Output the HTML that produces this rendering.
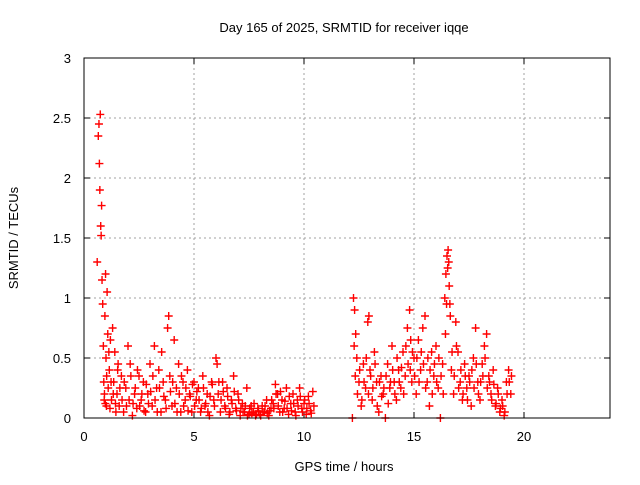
<!DOCTYPE html>
<html><head><meta charset="utf-8"><style>
body{margin:0;background:#fff}
svg text{font-family:"Liberation Sans",sans-serif;font-size:13px;fill:#000}
</style></head><body>
<svg id="c" width="640" height="480">
<text x="344" y="32" text-anchor="middle">Day 165 of 2025, SRMTID for receiver iqqe</text>
<text x="344" y="471" text-anchor="middle">GPS time / hours</text>
<text transform="translate(18,238) rotate(-90)" text-anchor="middle">SRMTID / TECUs</text>
<g id="grid"></g><g id="ticks"></g><g id="pts"></g>
<rect x="84" y="58" width="526" height="360" fill="none" stroke="#000" stroke-width="1"/>
</svg>
<script>
const xTicks=[0,5,10,15,20];
const yTicks=[0,0.5,1,1.5,2,2.5,3];
const yTickLabels=["0","0.5","1","1.5","2","2.5","3"];
const times=[0.60,0.65,0.68,0.70,0.72,0.74,0.76,0.78,0.80,0.82,0.85,0.88,0.90,0.92,0.95,0.98,1.00,1.02,1.05,1.08,1.10,1.15,1.20,1.25,1.30,1.35,1.40,1.45,1.50,1.55,1.60,1.70,1.80,1.90,2.00,2.05,2.10,2.20,2.30,2.40,2.50,2.60,2.70,2.80,2.90,3.00,3.10,3.20,3.30,3.40,3.50,3.60,3.70,3.80,3.85,3.90,4.00,4.10,4.20,4.30,4.40,4.50,4.60,4.70,4.80,4.90,5.00,5.10,5.20,5.30,5.40,5.50,5.60,5.70,5.80,5.90,6.00,6.05,6.10,6.20,6.30,6.40,6.50,6.60,6.70,6.80,6.90,7.00,7.10,7.20,7.30,7.40,7.50,7.60,7.70,7.80,7.90,8.00,8.10,8.20,8.30,8.40,8.50,8.60,8.70,8.80,8.90,9.00,9.10,9.20,9.30,9.40,9.50,9.60,9.70,9.80,9.90,10.00,10.10,10.20,10.30,10.40,10.45,
12.20,12.25,12.30,12.35,12.40,12.50,12.60,12.70,12.80,12.90,12.95,13.00,13.10,13.20,13.30,13.40,13.50,13.60,13.70,13.80,13.90,14.00,14.10,14.20,14.30,14.40,14.50,14.60,14.70,14.80,14.85,14.90,15.00,15.10,15.20,15.30,15.40,15.50,15.60,15.70,15.80,15.90,16.00,16.10,16.20,16.30,16.40,16.45,16.50,16.55,16.60,16.65,16.70,16.80,16.90,17.00,17.10,17.20,17.30,17.40,17.50,17.60,17.70,17.80,17.90,18.00,18.10,18.20,18.30,18.40,18.50,18.60,18.70,18.80,18.90,19.00,19.10,19.20,19.30,19.40];
const srmtid=[1.30,2.35,2.45,2.12,1.90,2.53,1.60,1.52,1.77,1.15,0.95,0.60,0.30,0.15,0.85,1.20,0.50,0.10,1.05,0.70,0.25,0.40,0.65,0.15,0.75,0.30,0.55,0.05,0.20,0.45,0.10,0.35,0.05,0.25,0.60,0.15,0.45,0.02,0.20,0.08,0.35,0.15,0.30,0.05,0.20,0.45,0.10,0.60,0.25,0.40,0.05,0.30,0.15,0.75,0.85,0.35,0.10,0.65,0.25,0.45,0.05,0.30,0.15,0.40,0.20,0.05,0.30,0.15,0.25,0.05,0.35,0.10,0.20,0.02,0.30,0.15,0.50,0.45,0.20,0.05,0.30,0.10,0.25,0.03,0.15,0.35,0.08,0.20,0.02,0.12,0.05,0.25,0.03,0.10,0.05,0.02,0.08,0.03,0.10,0.05,0.15,0.02,0.08,0.12,0.28,0.20,0.05,0.15,0.08,0.25,0.03,0.12,0.20,0.05,0.15,0.25,0.08,0.12,0.03,0.18,0.06,0.22,0.10,
0.00,1.00,0.90,0.70,0.50,0.30,0.10,0.45,0.25,0.80,0.85,0.40,0.15,0.55,0.30,0.05,0.35,0.20,0.00,0.45,0.25,0.60,0.30,0.15,0.40,0.25,0.55,0.35,0.75,0.90,0.65,0.30,0.50,0.20,0.65,0.40,0.75,0.85,0.30,0.10,0.55,0.35,0.60,0.25,0.00,0.45,1.00,1.20,1.35,1.40,1.10,0.85,0.40,0.20,0.80,0.55,0.30,0.15,0.45,0.25,0.35,0.10,0.50,0.75,0.30,0.15,0.45,0.60,0.70,0.35,0.20,0.40,0.10,0.25,0.05,0.15,0.02,0.30,0.40,0.20];
const times2=[0.93,0.97,1.03,1.13,1.18,1.23,1.33,1.43,1.53,1.63,1.73,1.83,1.93,2.13,2.23,2.33,2.43,2.53,2.63,2.73,2.83,2.93,3.03,3.13,3.23,3.33,3.43,3.53,3.63,3.73,3.93,4.03,4.13,4.23,4.33,4.43,4.53,4.63,4.73,4.83,4.93,5.03,5.13,5.23,5.33,5.43,5.53,5.63,5.73,5.83,5.93,6.13,6.23,6.33,6.43,6.53,6.63,6.73,6.83,6.93,7.03,7.13,7.23,7.33,7.43,7.53,7.63,7.73,7.83,7.93,8.03,8.13,8.23,8.33,8.43,8.53,8.63,8.73,8.83,8.93,9.03,9.13,9.23,9.33,9.43,9.53,9.63,9.73,9.83,9.93,10.03,10.13,10.23,10.33,
12.28,12.33,12.43,12.53,12.63,12.73,12.83,12.93,13.03,13.13,13.23,13.33,13.43,13.53,13.63,13.73,13.83,13.93,14.03,14.13,14.23,14.33,14.43,14.53,14.63,14.73,14.83,14.93,15.03,15.13,15.23,15.33,15.43,15.53,15.63,15.73,15.83,15.93,16.03,16.13,16.23,16.33,16.43,16.48,16.53,16.58,16.63,16.73,16.83,16.93,17.03,17.13,17.23,17.33,17.43,17.53,17.63,17.73,17.83,17.93,18.03,18.13,18.23,18.33,18.43,18.53,18.63,18.73,18.83,18.93,19.03,19.13,19.23,19.33,19.43];
const srmtid2=[0.20,0.12,0.35,0.55,0.08,0.30,0.20,0.12,0.40,0.25,0.15,0.30,0.10,0.35,0.12,0.25,0.40,0.10,0.20,0.06,0.28,0.12,0.22,0.35,0.15,0.05,0.25,0.55,0.18,0.08,0.22,0.30,0.12,0.05,0.20,0.35,0.10,0.25,0.06,0.18,0.28,0.10,0.22,0.15,0.08,0.25,0.12,0.05,0.18,0.28,0.10,0.30,0.15,0.22,0.08,0.18,0.05,0.12,0.22,0.06,0.15,0.08,0.05,0.10,0.02,0.08,0.04,0.12,0.03,0.06,0.02,0.05,0.10,0.04,0.06,0.15,0.08,0.20,0.10,0.22,0.05,0.14,0.08,0.18,0.06,0.12,0.02,0.10,0.18,0.05,0.15,0.08,0.12,0.04,
0.60,0.35,0.20,0.40,0.15,0.30,0.50,0.20,0.35,0.25,0.45,0.10,0.30,0.18,0.25,0.35,0.12,0.30,0.40,0.20,0.50,0.30,0.42,0.20,0.60,0.45,0.40,0.55,0.35,0.50,0.30,0.55,0.45,0.25,0.50,0.40,0.20,0.45,0.30,0.50,0.35,0.20,0.70,0.95,1.25,1.30,0.95,0.55,0.35,0.60,0.25,0.40,0.20,0.35,0.15,0.30,0.40,0.25,0.45,0.20,0.30,0.35,0.50,0.25,0.30,0.15,0.28,0.12,0.20,0.08,0.10,0.05,0.20,0.30,0.35];
const NS="http://www.w3.org/2000/svg";
const X=t=>84+t*22, Y=v=>418-v*120;
const grid=document.getElementById('grid'),ticks=document.getElementById('ticks'),pts=document.getElementById('pts');
function mk(tag,a,p){const e=document.createElementNS(NS,tag);for(const k in a)e.setAttribute(k,a[k]);p.appendChild(e);return e;}
xTicks.forEach(t=>{
 if(t>0){const g=mk('line',{x1:X(t),x2:X(t),y1:58,y2:418,stroke:'#a0a0a0','stroke-dasharray':'2,3'},grid);
 
 }
 const tk=mk('text',{x:X(t),y:441,'text-anchor':'middle'},ticks);tk.textContent=t;
 
 
 mk('line',{x1:X(t),x2:X(t),y1:418,y2:412,stroke:'#000'},ticks);
 mk('line',{x1:X(t),x2:X(t),y1:58,y2:64,stroke:'#000'},ticks);
});
yTicks.forEach((v,i)=>{
 if(v>0){const g=mk('line',{x1:84,x2:610,y1:Y(v),y2:Y(v),stroke:'#a0a0a0','stroke-dasharray':'2,3'},grid);
 
 }
 const tk=mk('text',{x:71,y:Y(v)+5,'text-anchor':'end'},ticks);tk.textContent=yTickLabels[i];
 
 
 mk('line',{x1:84,x2:90,y1:Y(v),y2:Y(v),stroke:'#000'},ticks);
 mk('line',{x1:610,x2:604,y1:Y(v),y2:Y(v),stroke:'#000'},ticks);
});
function plot(ts,vs){
 ts.forEach((t,i)=>{
  const x=X(t),y=Y(vs[i]);
  const p=mk('path',{d:`M${x-4},${y}h8M${x},${y-4}v8`,stroke:'#ff0000','stroke-width':1.4,fill:'none'},pts);
  
  
 });
}
plot(times,srmtid);
plot(times2,srmtid2);
</script>
</body></html>
